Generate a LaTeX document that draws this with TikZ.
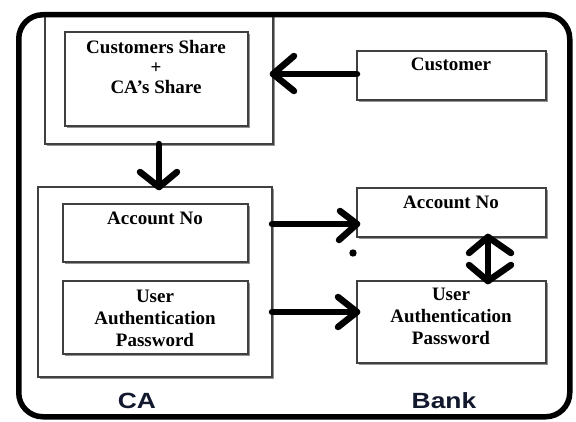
\documentclass[tikz,border=0pt]{standalone}
\usepackage{fontspec}
\usepackage{graphicx}
\setmainfont{Liberation Serif}
\newfontfamily\lsans{Liberation Sans}
\usetikzlibrary{shadows}
\definecolor{navy}{RGB}{18,24,45}
\tikzset{
  box/.style={draw=black!75, line width=1.2pt, fill=white,
    drop shadow={shadow xshift=1.8pt, shadow yshift=-1.8pt, fill=black!60, opacity=0.7},
    inner sep=0pt, outer sep=0pt, anchor=north west},
  lbl/.style={font=\bfseries\fontsize{19}{22}\selectfont, align=center, anchor=north, inner sep=0pt},
  shaft/.style={line width=6.5pt, line cap=round},
  head/.style={line width=6.5pt, line cap=round, line join=round},
  group/.style={font=\lsans\bfseries\fontsize{22}{24}\selectfont, text=navy, inner sep=0pt},
}
\begin{document}
\begin{tikzpicture}[x=1pt,y=-1pt]
\useasboundingbox (0,0) rectangle (576,422);
% boxes
\node[box, minimum width=228pt, minimum height=130pt] (catop) at (45,14) {};
\node[box, minimum width=183pt, minimum height=94pt] (share) at (65,32) {};
\node[box, minimum width=189pt, minimum height=49pt] (customer) at (357,51) {};
\node[box, minimum width=234pt, minimum height=190pt] (cabot) at (38,187) {};
\node[box, minimum width=185pt, minimum height=58pt] (caacc) at (63,204) {};
\node[box, minimum width=185pt, minimum height=73pt] (capw) at (63,281) {};
\node[box, minimum width=189pt, minimum height=49pt] (bkacc) at (357,188) {};
\node[box, minimum width=189pt, minimum height=82pt] (bkpw) at (357,281) {};
% texts
\node[lbl, font=\bfseries\fontsize{19}{20}\selectfont] (sharet) at (156,40) {Customers Share\\+\\CA's Share};
\node[lbl] (customert) at (451,58) {Customer};
\node[lbl] (caacct) at (155,212) {Account No};
\node[lbl] (capwt) at (155,290) {User\\Authentication\\Password};
\node[lbl] (bkacct) at (451,196) {Account No};
\node[lbl] (bkpwt) at (451,288) {User\\Authentication\\Password};
\node[group] (calbl) at (137,401) {\scalebox{1.2}[1]{CA}};
\node[group] (bklbl) at (444,401) {\scalebox{1.2}[1]{Bank}};
% frame
\node[draw, line width=5.5pt, rounded corners=24pt, minimum width=551pt, minimum height=402pt,
  inner sep=0pt, anchor=north west] (frame) at (16,12) {};
% connectors
% customer -> CA top box
\coordinate (t1) at (catop.east |- 0,74);
\draw[shaft] (customer.west |- t1) -- (t1);
\draw[head] ([shift={(21,-18)}]t1) -- (t1) -- ([shift={(21,17)}]t1);
% CA top -> CA bottom
\coordinate (t2) at (catop.south |- cabot.north);
\draw[shaft] (catop.south) -- (t2);
\draw[head] ([shift={(-19,-15)}]t2) -- (t2) -- ([shift={(18,-15)}]t2);
% account no
\coordinate (a1) at (272,224);
\coordinate (t3) at (bkacc.west |- a1);
\draw[shaft] (a1) -- (t3);
\draw[head] ([shift={(-17,-13)}]t3) -- (t3) -- ([shift={(-18,16)}]t3);
% password
\coordinate (a2) at (272,312);
\coordinate (t4) at (bkpw.west |- a2);
\draw[shaft] (a2) -- (t4);
\draw[head] ([shift={(-19,-15)}]t4) -- (t4) -- ([shift={(-19,15)}]t4);
% double arrow
\coordinate (dx) at (488,0);
\coordinate (t5) at (bkacc.south -| dx);
\coordinate (t6) at (bkpw.north -| dx);
\draw[shaft] (t5) -- (t6);
\draw[head] ([shift={(-19,16)}]t5) -- (t5) -- ([shift={(23,16)}]t5);
\draw[head] ([shift={(-19,-16)}]t6) -- (t6) -- ([shift={(23,-16)}]t6);
\fill (353,253) circle (3.7pt);
\end{tikzpicture}
\end{document}
